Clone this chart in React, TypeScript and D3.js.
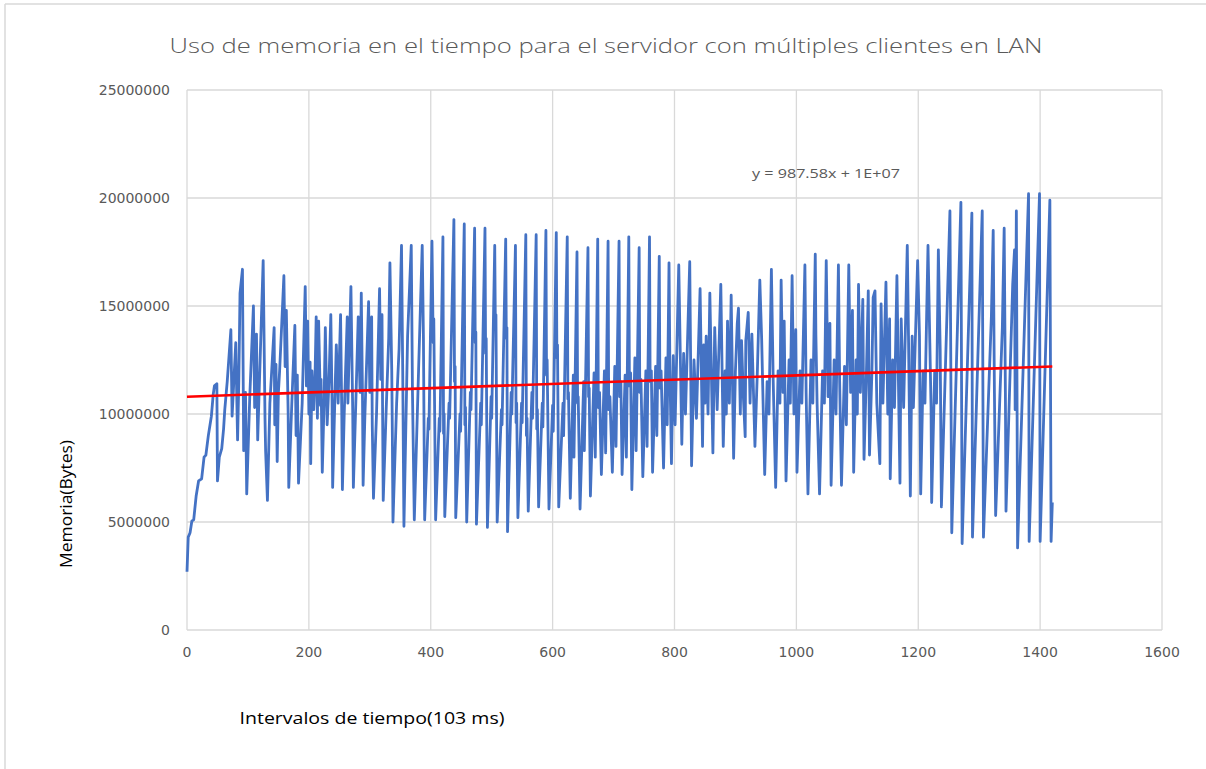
import React from "react";
import * as d3 from "d3";

// Memory (millions of bytes) at sample index — vertices
const rampPhase: [number, number][] = [
  [0, 2.7], [2, 4.3], [5, 4.5], [8, 5.05], [11, 5.1], [15, 6.2], [19, 6.9], [24, 7.0], [28, 8.0], [31, 8.1],
  [35, 9.0], [40, 9.9], [43, 10.9], [45, 11.3], [49, 11.4], [50, 6.9], [53, 8.0], [57, 8.4], [60, 9.3], [62, 10.2],
  [66, 11.5], [72, 13.9], [74, 9.9], [80, 13.3], [83, 8.8], [85, 11.5], [87, 15.6], [91, 16.7], [93, 8.3], [96, 11.0],
  [98, 6.3], [103, 10.8], [109, 15.0], [111, 10.3], [114, 13.7], [116, 8.8], [119, 11.6], [125, 17.1], [128, 9.8], [129, 8.3],
  [132, 6.0], [136, 10.5], [143, 14.0], [144, 9.5], [146, 12.3], [148, 7.8], [150, 11.0], [152, 12.0], [159, 16.4], [161, 12.2],
  [163, 14.8], [166, 10.0], [167, 6.6], [172, 10.5], [177, 14.1], [179, 9.0], [181, 11.8], [183, 6.8], [189, 10.5], [194, 15.9],
  [196, 11.3], [198, 14.3], [200, 10.0], [202, 12.4], [203, 7.7], [205, 12.0], [208, 10.2], [210, 11.6], [212, 14.5], [214, 9.8],
  [216, 14.3], [219, 10.4], [220, 11.6], [222, 7.3], [225, 10.6], [227, 14.0], [230, 9.5], [233, 11.5], [236, 14.6], [238, 10.6],
  [239, 6.6], [242, 10.0], [245, 13.2], [248, 10.5], [252, 14.6], [254, 10.0], [255, 6.5], [258, 10.0], [263, 14.5], [264, 10.5],
  [269, 15.9], [272, 10.0], [273, 6.6], [277, 10.5], [281, 14.5], [284, 11.0], [286, 15.6], [288, 10.8], [289, 6.7], [292, 10.0],
  [298, 15.2], [300, 11.0], [303, 14.5], [304, 9.5], [306, 6.1], [311, 10.0], [316, 15.8], [318, 11.6], [320, 14.6], [321, 10.0],
  [322, 6.0], [327, 10.3], [331, 13.5], [333, 17.0], [336, 12.0], [337, 9.0], [338, 5.0], [344, 10.5], [348, 13.0], [352, 17.8],
  [354, 12.0], [356, 4.8], [362, 13.6], [368, 17.8], [370, 11.0], [373, 5.1], [380, 12.0], [386, 17.8], [388, 13.5], [390, 5.1],
];

const steadyPhase: [number, number][] = [
  [396, 9.8], [397, 9.3], [402, 18.0], [404, 13.3], [405, 14.4], [408, 5.1],
  [414, 9.8], [415, 9.2], [420, 18.2], [421, 9.1], [422, 10.0], [423, 5.25],
  [430, 10.5], [431, 9.8], [438, 19.0], [439, 11.5], [440, 12.2], [441, 5.2],
  [448, 10.0], [449, 9.2], [455, 18.8], [456, 9.5], [457, 10.3], [459, 5.0],
  [465, 11.0], [466, 10.2], [472, 18.6], [473, 13.3], [474, 13.8], [475, 4.9],
  [482, 10.5], [483, 9.5], [489, 18.6], [490, 12.8], [491, 13.5], [493, 4.75],
  [499, 10.8], [500, 9.8], [505, 17.8], [506, 14.2], [507, 14.6], [509, 5.0],
  [516, 10.2], [517, 9.5], [523, 18.1], [524, 13.5], [525, 14.0], [526, 4.55],
  [532, 11.0], [533, 10.0], [539, 17.8], [540, 9.6], [541, 10.5], [543, 5.2],
  [549, 10.5], [550, 9.6], [556, 18.3], [557, 9.0], [558, 9.8], [560, 5.5],
  [566, 11.0], [567, 9.8], [573, 18.3], [574, 9.3], [575, 10.2], [577, 5.7],
  [583, 10.5], [584, 9.4], [589, 18.5], [590, 11.8], [591, 12.5], [594, 5.6],
  [600, 10.4], [601, 9.2], [606, 18.4], [607, 12.6], [608, 13.2], [610, 5.7],
  [617, 10.5], [618, 9.0], [624, 18.2], [625, 10.7], [626, 11.0], [629, 6.1],
  [634, 11.8], [635, 8.0], [640, 17.5], [641, 10.5], [642, 10.8], [645, 5.6],
  [651, 11.5], [652, 8.3], [658, 17.7], [659, 10.8], [660, 11.2], [662, 6.2],
  [668, 11.9], [670, 8.0], [674, 18.1], [675, 10.3], [677, 11.0], [680, 7.2],
  [685, 12.0], [687, 8.2], [691, 18.0], [692, 10.2], [694, 10.8], [698, 7.3],
  [702, 12.2], [704, 8.5], [709, 18.0], [710, 10.8], [712, 11.5], [714, 7.2],
  [719, 11.8], [721, 8.0], [725, 18.2], [726, 11.3], [728, 11.9], [730, 6.5],
  [735, 12.6], [737, 8.3], [742, 17.7], [743, 11.0], [745, 11.6], [748, 7.1],
  [753, 12.0], [755, 8.5], [759, 18.2], [760, 11.5], [762, 12.0], [764, 7.3],
  [769, 12.2], [771, 9.0], [775, 17.3], [776, 11.2], [778, 12.0], [782, 7.5],
  [786, 12.6], [788, 9.5], [791, 17.0], [792.5, 12.0], [795, 7.7],
];

const densePhase: [number, number][] = [
  [798, 12.7], [801, 9.5], [807, 16.9], [812, 8.6], [815, 12.8], [818, 10.0],
  [825, 17.05], [828, 7.6], [832, 12.5], [836, 9.8], [842, 15.8], [846, 8.5], [848, 13.2], [850, 10.5], [852, 13.6],
  [855, 10.0], [858, 15.6], [863, 8.2], [866, 14.0], [870, 10.2], [876, 16.0], [880, 8.5], [883, 12.0], [885, 10.0],
  [887, 14.3], [890, 10.5], [893, 15.5], [897, 7.95], [900, 12.0], [903, 14.2], [905, 14.9], [908, 10.0], [910, 13.4],
  [913, 10.8], [916, 8.95], [917, 13.4], [921, 14.7], [924, 10.5], [927, 13.7], [932, 8.5], [936, 12.0], [940, 16.2],
  [943, 13.5], [948, 7.2], [952, 11.5], [955, 10.0], [959, 16.7], [962, 11.5], [966, 6.6], [970, 12.0], [973, 10.5],
  [975, 16.2], [978, 11.0], [980, 14.3], [983, 6.9], [988, 12.5], [990, 10.5], [993, 16.4], [996, 10.0], [999, 13.9],
  [1001, 7.3], [1006, 12.0], [1009, 10.5], [1014, 16.9], [1016, 11.0], [1019, 6.3], [1024, 12.5], [1027, 10.5],
  [1031, 17.4], [1032, 13.7], [1034, 10.5], [1038, 6.3], [1043, 12.0], [1046, 10.5], [1049, 17.1], [1052, 10.8],
  [1055, 14.2], [1057, 6.7], [1062, 12.5], [1065, 10.0], [1069, 16.9], [1071, 11.5], [1074, 6.7], [1079, 12.2],
  [1082, 9.5], [1086, 16.9], [1089, 11.0], [1092, 14.8], [1094, 7.3], [1098, 12.5], [1100, 10.0], [1102, 16.0],
  [1105, 11.0], [1109, 15.3], [1111, 7.9], [1115, 12.0], [1118, 15.7], [1120, 8.1], [1124, 12.0], [1126, 15.4],
  [1129, 15.7], [1132, 10.5], [1137, 7.7], [1139, 15.1], [1142, 10.5], [1147, 16.1], [1150, 10.0], [1153, 14.4],
  [1154, 7.0], [1158, 12.5], [1161, 10.3], [1165, 16.4], [1168, 10.5], [1170, 6.8], [1172, 14.4], [1176, 10.3],
  [1182, 17.8], [1184, 13.6], [1187, 6.2], [1190, 13.6], [1192, 10.3], [1199, 17.1], [1202, 13.6], [1204, 6.3],
  [1208, 12.0], [1211, 10.5], [1216, 17.8], [1219, 13.3], [1221, 10.3], [1222, 5.9], [1227, 12.0], [1230, 10.5],
  [1233, 17.6], [1236, 13.0], [1238, 5.7],
];

const finalPhase: [number, number][] = [
  [1252, 19.4], [1255, 4.5], [1270, 19.8], [1272, 4.0], [1288, 19.3], [1289, 4.3], [1305, 19.4], [1307, 4.3],
  [1320, 14.5], [1323, 18.5], [1325, 11.0], [1327, 5.3], [1338, 14.0], [1341, 18.6], [1343, 11.0], [1344, 5.5],
  [1355, 16.0], [1358, 17.6], [1359, 10.2], [1361, 19.4], [1363, 3.8], [1381, 20.2], [1382, 4.1], [1399, 20.2],
  [1400, 4.1], [1416, 19.9], [1418, 4.1], [1420, 5.9],
];

const xTicks = [0, 200, 400, 600, 800, 1000, 1200, 1400, 1600];
const yTicks = [0, 5000000, 10000000, 15000000, 20000000, 25000000];
const trendSlope = 987.58;
const trendIntercept = 10800000;
const trendRange = [0, 1420];

const title = "Uso de memoria en el tiempo para el servidor con múltiples clientes en LAN";
const xTitle = "Intervalos de tiempo(103 ms)";
const yTitle = "Memoria(Bytes)";
const equation = "y = 987.58x + 1E+07";

export default function App() {
  const W = 1206, H = 769;
  const x = d3.scaleLinear().domain([0, 1600]).range([187, 1162]);
  const y = d3.scaleLinear().domain([0, 25000000]).range([630, 90]);
  const series = [...rampPhase, ...steadyPhase, ...densePhase, ...finalPhase];
  const line = d3.line<[number, number]>().x(d => x(d[0])).y(d => y(d[1] * 1e6));
  const trend = d3.line<number>().x(d => x(d)).y(d => y(trendSlope * d + trendIntercept));
  const grid = "#d9d9d9";
  const font = "'Open Sans', 'Noto Sans', sans-serif";
  return (
    <svg width={W} height={H} style={{ position: "absolute", left: 0, top: 0, background: "#fff" }}>
      <rect x={0} y={0} width={W} height={H} fill="#fff" />
      <line x1={5} y1={4} x2={5} y2={H} stroke={grid} strokeWidth={1.5} />
      <line x1={5} y1={4} x2={W} y2={4} stroke={grid} strokeWidth={1.5} />
      {yTicks.map(t => (
        <line key={"gy" + t} x1={x(0)} x2={x(1600)} y1={y(t)} y2={y(t)} stroke={grid} strokeWidth={1.3} />
      ))}
      {xTicks.map(t => (
        <line key={"gx" + t} x1={x(t)} x2={x(t)} y1={y(0)} y2={y(25000000)} stroke={grid} strokeWidth={1.3} />
      ))}
      {yTicks.map(t => (
        <text key={"ly" + t} x={170} y={y(t) + 5} textAnchor="end" fontFamily="'DejaVu Sans', sans-serif" fontSize={14} fill="#595959">{t}</text>
      ))}
      {xTicks.map(t => (
        <text key={"lx" + t} x={x(t)} y={657} textAnchor="middle" fontFamily="'DejaVu Sans', sans-serif" fontSize={14} fill="#595959">{t}</text>
      ))}
      <path d={line(series) || ""} fill="none" stroke="#4472C4" strokeWidth={2.8} strokeLinejoin="round" />
      <path d={trend(trendRange) || ""} fill="none" stroke="#FF0000" strokeWidth={2.6} />
      <text x={606} y={53} textAnchor="middle" fontFamily={font} fontWeight={300} fontSize={21} fill="#595959" textLength={873} lengthAdjust="spacingAndGlyphs">{title}</text>
      <text x={826} y={178} textAnchor="middle" fontFamily={font} fontSize={13} fill="#595959" textLength={148} lengthAdjust="spacingAndGlyphs">{equation}</text>
      <text x={372} y={724} textAnchor="middle" fontFamily={font} fontSize={17} fill="#000" textLength={265} lengthAdjust="spacingAndGlyphs">{xTitle}</text>
      <text transform="translate(72,504) rotate(-90)" textAnchor="middle" fontFamily={font} fontSize={17} fill="#000" textLength={128} lengthAdjust="spacingAndGlyphs">{yTitle}</text>
    </svg>
  );
}
